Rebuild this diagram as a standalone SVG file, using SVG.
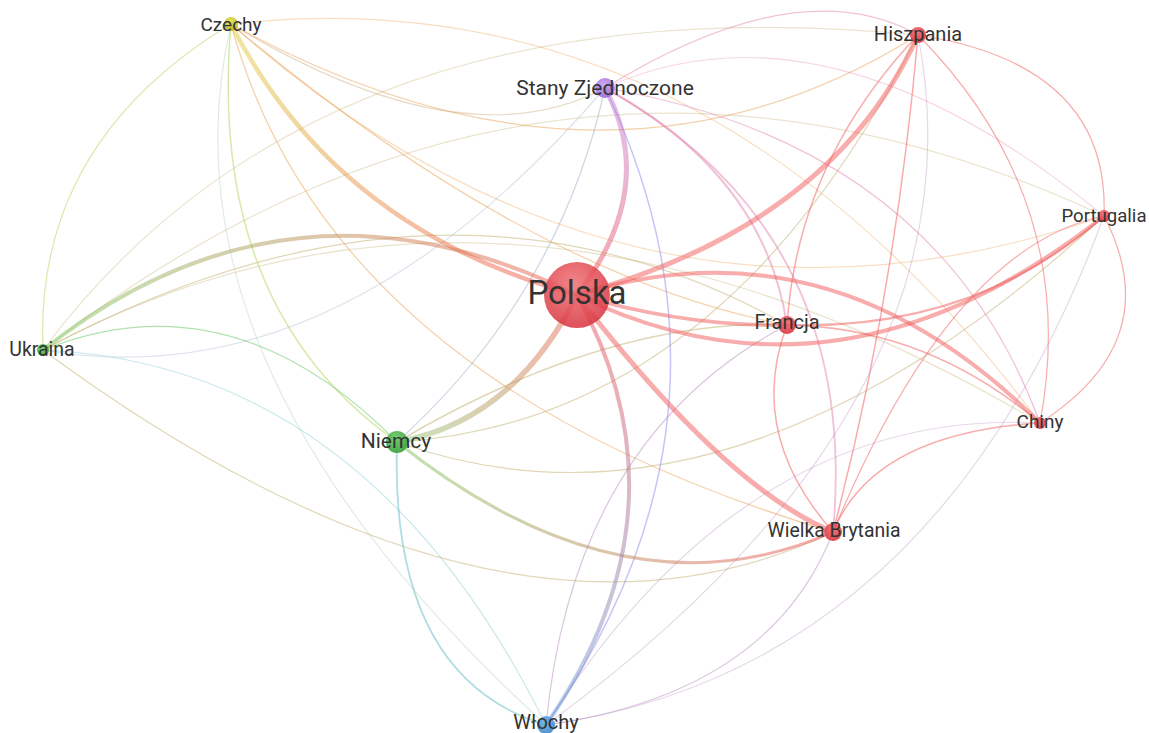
<svg xmlns="http://www.w3.org/2000/svg" width="1149" height="733" viewBox="0 0 1149 733">
<style>
.e{fill:none;stroke-linecap:round;stroke-opacity:.5}
.r{stroke:#f25a5a}.ry{stroke:#eba050}.rg{stroke:#c2b070}.rp{stroke:#e486b0}.rb{stroke:#b88cc0}
.yg{stroke:#b4d45a}.yp{stroke:#d2b48c}.yb{stroke:#a8c8a8}.gp{stroke:#9ab0c8}.gb{stroke:#60bcc8}
.pb{stroke:#8c8cf0}.g{stroke:#64c864}
.f{stroke-opacity:.35}
.lbl{font-family:Roboto,"Liberation Sans",sans-serif;fill:#333;text-anchor:middle;font-size:20px}
</style>
<defs>
<linearGradient id="gCZ" gradientUnits="userSpaceOnUse" x1="577" y1="295" x2="231" y2="24"><stop offset="0" stop-color="#f05050"/><stop offset="1" stop-color="#e0d040"/></linearGradient>
<linearGradient id="gSZ" gradientUnits="userSpaceOnUse" x1="577" y1="295" x2="605" y2="88"><stop offset="0" stop-color="#f05050"/><stop offset="1" stop-color="#c080e0"/></linearGradient>
<linearGradient id="gW" gradientUnits="userSpaceOnUse" x1="577" y1="295" x2="546" y2="725"><stop offset="0" stop-color="#f05050"/><stop offset="1" stop-color="#6aa0e0"/></linearGradient>
<linearGradient id="gN" gradientUnits="userSpaceOnUse" x1="577" y1="295" x2="397" y2="442"><stop offset="0" stop-color="#f06050"/><stop offset="1" stop-color="#90c870"/></linearGradient>
<linearGradient id="gU" gradientUnits="userSpaceOnUse" x1="577" y1="295" x2="43" y2="350"><stop offset="0" stop-color="#f06050"/><stop offset="1" stop-color="#80c860"/></linearGradient>
<linearGradient id="gNWB" gradientUnits="userSpaceOnUse" x1="397" y1="442" x2="833" y2="532"><stop offset="0" stop-color="#80c860"/><stop offset="1" stop-color="#f05050"/></linearGradient>
<radialGradient id="nR" cx="45%" cy="35%" r="65%"><stop offset="0" stop-color="#f07074"/><stop offset="1" stop-color="#d8323e"/></radialGradient>
<radialGradient id="nG" cx="45%" cy="35%" r="65%"><stop offset="0" stop-color="#6cc86c"/><stop offset="1" stop-color="#34a034"/></radialGradient>
<radialGradient id="nB" cx="45%" cy="35%" r="65%"><stop offset="0" stop-color="#70b0e8"/><stop offset="1" stop-color="#3a88cc"/></radialGradient>
<radialGradient id="nY" cx="45%" cy="35%" r="65%"><stop offset="0" stop-color="#e0e050"/><stop offset="1" stop-color="#b8b820"/></radialGradient>
<radialGradient id="nP" cx="45%" cy="35%" r="65%"><stop offset="0" stop-color="#c8a0f0"/><stop offset="1" stop-color="#9c68d8"/></radialGradient>
</defs>
<rect width="1149" height="733" fill="#ffffff"/>
<g id="connectors" stroke-width="1.2">
<path class="e yg" d="M231,24 Q34,143 43,350"/>
<path class="e yg" style="stroke-width:1.5" d="M231,24 Q206.5,307 397,442"/>
<path class="e yb f" d="M231,24 Q152,366.5 546,725"/>
<path class="e yp" d="M231,24 Q462,164 605,88"/>
<path class="e ry" d="M231,24 Q606,230.5 918,35"/>
<path class="e ry f" d="M231,24 Q704.5,-29.5 1040,423"/>
<path class="e ry" d="M231,24 Q531,276.5 787,325"/>
<path class="e ry f" d="M231,24 Q633,380 1104,216"/>
<path class="e ry" d="M231,24 Q328,382.5 833,532"/>
<path class="e rg f" d="M43,350 Q321,-22.5 918,35"/>
<path class="e rg f" d="M43,350 Q548,-43 1104,216"/>
<path class="e rg" d="M43,350 Q446,133.5 787,325"/>
<path class="e rg f" d="M43,350 Q499.5,103.5 1040,423"/>
<path class="e g" d="M43,350 Q231.5,274 397,442"/>
<path class="e gb f" d="M43,350 Q367,363.5 546,725"/>
<path class="e rg" d="M43,350 Q503,689.5 833,532"/>
<path class="e gp f" d="M43,350 Q337,401 605,88"/>
<path class="e gb" style="stroke-width:1.8" d="M397,442 Q389.5,677.5 546,725"/>
<path class="e rg" d="M397,442 Q730.5,561 1104,216"/>
<path class="e rg" d="M397,442 Q723.5,421.5 918,35"/>
<path class="e rg" style="stroke-width:1.5" d="M397,442 Q608.5,317.5 787,325"/>
<path class="e gp" d="M397,442 Q559.5,295 605,88"/>
<path class="e rp" d="M605,88 Q799,-31.5 918,35"/>
<path class="e rp f" d="M605,88 Q826,-12 1104,216"/>
<path class="e rp" style="stroke-width:2" d="M605,88 Q764,174.5 787,325"/>
<path class="e rp" style="stroke-width:1.8" d="M605,88 Q861,230.5 833,532"/>
<path class="e rp" d="M605,88 Q937.5,144.5 1040,423"/>
<path class="e pb" style="stroke-width:1.5" d="M605,88 Q761,414.5 546,725"/>
<path class="e r" d="M918,35 Q1110,64.5 1104,216"/>
<path class="e r" d="M918,35 Q1081.5,201 1040,423"/>
<path class="e r" style="stroke-width:1.5" d="M918,35 Q798,161 787,325"/>
<path class="e r" style="stroke-width:1.5" d="M918,35 Q895,297 833,532"/>
<path class="e rb f" d="M918,35 Q989,401 546,725"/>
<path class="e r" style="stroke-width:2.2" d="M1104,216 Q975,330.5 787,325"/>
<path class="e r" d="M1104,216 Q1168.5,340.5 1040,423"/>
<path class="e r" d="M1104,216 Q952,246.5 833,532"/>
<path class="e rb f" d="M1104,216 Q936,670.5 546,725"/>
<path class="e r" style="stroke-width:1.5" d="M787,325 Q926.5,327 1040,423"/>
<path class="e r" style="stroke-width:1.5" d="M787,325 Q746,433 833,532"/>
<path class="e rb" d="M787,325 Q574,437 546,725"/>
<path class="e r" style="stroke-width:1.5" d="M1040,423 Q873.5,433 833,532"/>
<path class="e rb f" d="M1040,423 Q747.5,407 546,725"/>
<path class="e rb" d="M833,532 Q771,693 546,725"/>
<path class="e" stroke="url(#gNWB)" style="stroke-width:3" d="M397,442 Q625.5,623.5 833,532"/>
<path class="e" stroke="url(#gCZ)" style="stroke-width:4.5" d="M577,295 Q336,230 231,24"/>
<path class="e" stroke="url(#gSZ)" style="stroke-width:5" d="M577,295 Q659,188 605,88"/>
<path class="e r" style="stroke-width:5" d="M577,295 Q833,225 918,35"/>
<path class="e r" style="stroke-width:4" d="M577,295 Q840,424 1104,216"/>
<path class="e r" style="stroke-width:3.5" d="M577,295 Q688,327 787,325"/>
<path class="e r" style="stroke-width:4" d="M577,295 Q831.5,215 1040,423"/>
<path class="e r" style="stroke-width:5" d="M577,295 Q725,487 833,532"/>
<path class="e" stroke="url(#gW)" style="stroke-width:4" d="M577,295 Q695,509 546,725"/>
<path class="e" stroke="url(#gN)" style="stroke-width:5.5" d="M577,295 Q513.5,421.5 397,442"/>
<path class="e" stroke="url(#gU)" style="stroke-width:4" d="M577,295 Q291,153.5 43,350"/>
</g>
<g id="node-polska"><circle cx="577" cy="295" r="33" fill="url(#nR)" opacity=".85"/><text class="lbl" x="577" y="304" style="font-size:33px">Polska</text></g>
<g id="node-czechy"><circle cx="231" cy="24" r="7" fill="url(#nY)" opacity=".9"/><text class="lbl" x="231" y="31" style="font-size:19px">Czechy</text></g>
<g id="node-stany"><circle cx="605" cy="88" r="10" fill="url(#nP)" opacity=".9"/><text class="lbl" x="605" y="95" style="font-size:21px">Stany Zjednoczone</text></g>
<g id="node-hiszpania"><circle cx="918" cy="35" r="8" fill="url(#nR)" opacity=".9"/><text class="lbl" x="918" y="41">Hiszpania</text></g>
<g id="node-portugalia"><circle cx="1104" cy="216" r="6" fill="url(#nR)" opacity=".9"/><text class="lbl" x="1104" y="222" style="font-size:18.6px">Portugalia</text></g>
<g id="node-francja"><circle cx="787" cy="325" r="9" fill="url(#nR)" opacity=".9"/><text class="lbl" x="787" y="329">Francja</text></g>
<g id="node-chiny"><circle cx="1040" cy="423" r="6" fill="url(#nR)" opacity=".9"/><text class="lbl" x="1040" y="428" style="font-size:19px">Chiny</text></g>
<g id="node-wielka-brytania"><circle cx="833" cy="532" r="9" fill="url(#nR)" opacity=".9"/><text class="lbl" x="834" y="537" style="font-size:19.4px">Wielka Brytania</text></g>
<g id="node-niemcy"><circle cx="397" cy="442" r="11" fill="url(#nG)" opacity=".9"/><text class="lbl" x="396" y="448" style="font-size:21px">Niemcy</text></g>
<g id="node-ukraina"><circle cx="43" cy="350" r="6" fill="url(#nG)" opacity=".9"/><text class="lbl" x="42" y="356" style="font-size:19.5px">Ukraina</text></g>
<g id="node-wlochy"><circle cx="546" cy="725" r="9" fill="url(#nB)" opacity=".9"/><text class="lbl" x="546" y="729">Włochy</text></g>
</svg>
